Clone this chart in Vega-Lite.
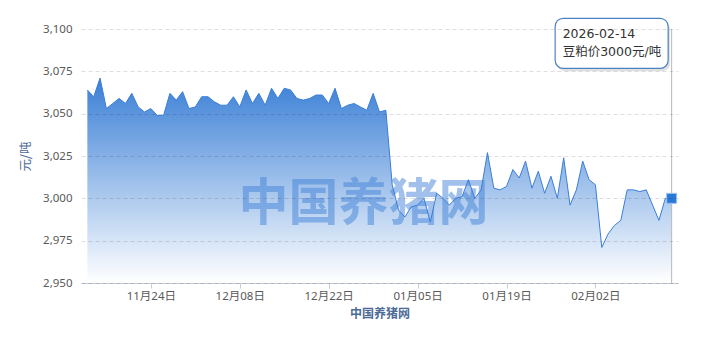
{
  "$schema": "https://vega.github.io/schema/vega-lite/v6.json",
  "width": 597,
  "height": 254,
  "autosize": {"type": "none"},
  "padding": {"left": 81, "top": 29, "right": 25, "bottom": 60},
  "background": "#ffffff",
  "config": {"view": {"stroke": null}, "font": "Noto Sans, Noto Sans CJK SC"},
  "data": {
    "values": [
      {"date": "2025-11-14", "price": 3064}, {"date": "2025-11-15", "price": 3060}, {"date": "2025-11-16", "price": 3071},
      {"date": "2025-11-17", "price": 3053}, {"date": "2025-11-18", "price": 3056}, {"date": "2025-11-19", "price": 3059},
      {"date": "2025-11-20", "price": 3056}, {"date": "2025-11-21", "price": 3062}, {"date": "2025-11-22", "price": 3054},
      {"date": "2025-11-23", "price": 3051}, {"date": "2025-11-24", "price": 3053}, {"date": "2025-11-25", "price": 3049},
      {"date": "2025-11-26", "price": 3049}, {"date": "2025-11-27", "price": 3062}, {"date": "2025-11-28", "price": 3058},
      {"date": "2025-11-29", "price": 3063}, {"date": "2025-11-30", "price": 3053}, {"date": "2025-12-01", "price": 3054},
      {"date": "2025-12-02", "price": 3060}, {"date": "2025-12-03", "price": 3060}, {"date": "2025-12-04", "price": 3057},
      {"date": "2025-12-05", "price": 3055}, {"date": "2025-12-06", "price": 3055}, {"date": "2025-12-07", "price": 3060},
      {"date": "2025-12-08", "price": 3054}, {"date": "2025-12-09", "price": 3064}, {"date": "2025-12-10", "price": 3056},
      {"date": "2025-12-11", "price": 3062}, {"date": "2025-12-12", "price": 3055}, {"date": "2025-12-13", "price": 3065},
      {"date": "2025-12-14", "price": 3059}, {"date": "2025-12-15", "price": 3065}, {"date": "2025-12-16", "price": 3064},
      {"date": "2025-12-17", "price": 3059}, {"date": "2025-12-18", "price": 3058}, {"date": "2025-12-19", "price": 3059},
      {"date": "2025-12-20", "price": 3061}, {"date": "2025-12-21", "price": 3061}, {"date": "2025-12-22", "price": 3056},
      {"date": "2025-12-23", "price": 3065}, {"date": "2025-12-24", "price": 3053}, {"date": "2025-12-25", "price": 3055},
      {"date": "2025-12-26", "price": 3056}, {"date": "2025-12-27", "price": 3054}, {"date": "2025-12-28", "price": 3052},
      {"date": "2025-12-29", "price": 3062}, {"date": "2025-12-30", "price": 3051}, {"date": "2025-12-31", "price": 3052},
      {"date": "2026-01-01", "price": 3008}, {"date": "2026-01-02", "price": 2993}, {"date": "2026-01-03", "price": 2989},
      {"date": "2026-01-04", "price": 2995}, {"date": "2026-01-05", "price": 2996}, {"date": "2026-01-06", "price": 3000},
      {"date": "2026-01-07", "price": 2986}, {"date": "2026-01-08", "price": 3003}, {"date": "2026-01-09", "price": 3000},
      {"date": "2026-01-10", "price": 2996}, {"date": "2026-01-11", "price": 3000}, {"date": "2026-01-12", "price": 3001},
      {"date": "2026-01-13", "price": 3011}, {"date": "2026-01-14", "price": 3000}, {"date": "2026-01-15", "price": 3005},
      {"date": "2026-01-16", "price": 3027}, {"date": "2026-01-17", "price": 3006}, {"date": "2026-01-18", "price": 3005},
      {"date": "2026-01-19", "price": 3007}, {"date": "2026-01-20", "price": 3017}, {"date": "2026-01-21", "price": 3012},
      {"date": "2026-01-22", "price": 3022}, {"date": "2026-01-23", "price": 3006}, {"date": "2026-01-24", "price": 3016},
      {"date": "2026-01-25", "price": 3003}, {"date": "2026-01-26", "price": 3013}, {"date": "2026-01-27", "price": 3000},
      {"date": "2026-01-28", "price": 3024}, {"date": "2026-01-29", "price": 2996}, {"date": "2026-01-30", "price": 3005},
      {"date": "2026-01-31", "price": 3022}, {"date": "2026-02-01", "price": 3011}, {"date": "2026-02-02", "price": 3008},
      {"date": "2026-02-03", "price": 2971}, {"date": "2026-02-04", "price": 2979}, {"date": "2026-02-05", "price": 2984},
      {"date": "2026-02-06", "price": 2987}, {"date": "2026-02-07", "price": 3005}, {"date": "2026-02-08", "price": 3005},
      {"date": "2026-02-09", "price": 3004}, {"date": "2026-02-10", "price": 3005}, {"date": "2026-02-11", "price": 2996},
      {"date": "2026-02-12", "price": 2987}, {"date": "2026-02-13", "price": 3000}, {"date": "2026-02-14", "price": 3000}
    ]
  },
  "encoding": {
    "x": {
      "field": "date",
      "type": "temporal",
      "scale": {
        "type": "utc",
        "domain": [
          {"year": 2025, "month": 11, "date": 13, "utc": true},
          {"year": 2026, "month": 2, "date": 15, "utc": true}
        ]
      },
      "axis": {
        "title": "中国养猪网",
        "titleFont": "Noto Sans CJK SC",
        "titleFontWeight": "bold",
        "titleFontSize": 12,
        "titleColor": "#4d6b97",
        "titlePadding": 7,
        "values": [
          {"year": 2025, "month": 11, "date": 24, "utc": true},
          {"year": 2025, "month": 12, "date": 8, "utc": true},
          {"year": 2025, "month": 12, "date": 22, "utc": true},
          {"year": 2026, "month": 1, "date": 5, "utc": true},
          {"year": 2026, "month": 1, "date": 19, "utc": true},
          {"year": 2026, "month": 2, "date": 2, "utc": true}
        ],
        "format": "%m月%d日",
        "labelFontSize": 11.5,
        "labelColor": "#595959",
        "labelPadding": 2,
        "labelFlush": false,
        "tickSize": 5,
        "tickColor": "#c6cdd8",
        "domainColor": "#c6cdd8",
        "grid": false
      }
    },
    "y": {
      "field": "price",
      "type": "quantitative",
      "scale": {"domain": [2950, 3100], "zero": false, "nice": false},
      "axis": {
        "title": "元/吨",
        "titleFont": "Noto Sans CJK SC",
        "titleFontWeight": "normal",
        "titleFontSize": 12.5,
        "titleColor": "#4d6b97",
        "titlePadding": 10,
        "values": [2950, 2975, 3000, 3025, 3050, 3075, 3100],
        "format": ",d",
        "labelFontSize": 11.5,
        "labelColor": "#595959",
        "labelPadding": 9,
        "ticks": false,
        "domain": false,
        "grid": true,
        "gridColor": "#000000",
        "gridOpacity": 0.13,
        "gridDash": [4, 3],
        "zindex": 1
      }
    }
  },
  "layer": [
    {
      "mark": {
        "type": "area",
        "fill": {
          "gradient": "linear",
          "x1": 0, "y1": 0, "x2": 0, "y2": 1,
          "stops": [
            {"offset": 0, "color": "#3a7fd6"},
            {"offset": 1, "color": "#ffffff"}
          ]
        }
      },
      "encoding": {"y2": {"datum": 2950}}
    },
    {
      "data": {"values": [{"site": "中国养猪网", "date": "2025-12-27T12:00:00Z", "price": 2996}]},
      "mark": {
        "type": "text",
        "font": "Noto Sans CJK SC",
        "fontWeight": "bold",
        "fontSize": 50,
        "color": "#3d80d8",
        "opacity": 0.48,
        "align": "center",
        "baseline": "middle"
      },
      "encoding": {
        "text": {"field": "site", "type": "nominal"}
      }
    },
    {
      "mark": {"type": "line", "color": "#3b7fd6", "strokeWidth": 1}
    },
    {
      "transform": [{"filter": "utcyear(datum.date) == 2026 && utcmonth(datum.date) == 1 && utcdate(datum.date) == 14"}],
      "mark": {"type": "rule", "color": "#b9b9b9", "strokeWidth": 1},
      "encoding": {"y": {"datum": 3100}, "y2": {"datum": 2950}}
    },
    {
      "transform": [{"filter": "utcyear(datum.date) == 2026 && utcmonth(datum.date) == 1 && utcdate(datum.date) == 14"}],
      "mark": {"type": "point", "shape": "square", "filled": true, "size": 100, "color": "#2b78d6", "stroke": "#9cc2ee", "strokeWidth": 1, "opacity": 1}
    },
    {
      "transform": [{"filter": "utcyear(datum.date) == 2026 && utcmonth(datum.date) == 1 && utcdate(datum.date) == 14"}],
      "mark": {"type": "rect", "width": 113, "height": 50, "xOffset": -58, "yOffset": -152, "cornerRadius": 8, "fill": "#000000", "opacity": 0.12}
    },
    {
      "transform": [{"filter": "utcyear(datum.date) == 2026 && utcmonth(datum.date) == 1 && utcdate(datum.date) == 14"}],
      "mark": {"type": "rect", "width": 113, "height": 50, "xOffset": -60, "yOffset": -155, "cornerRadius": 8, "fill": "#ffffff", "stroke": "#4a83c3", "strokeWidth": 1.2}
    },
    {
      "transform": [
        {"filter": "utcyear(datum.date) == 2026 && utcmonth(datum.date) == 1 && utcdate(datum.date) == 14"},
        {"calculate": "utcFormat(datum.date, '%Y-%m-%d') + '\\n' + '豆粕价' + datum.price + '元/吨'", "as": "tip"}
      ],
      "mark": {
        "type": "text",
        "align": "left",
        "baseline": "alphabetic",
        "dx": -109,
        "dy": -160,
        "lineBreak": "\n",
        "lineHeight": 17.5,
        "fontSize": 12.5,
        "font": "DejaVu Sans, Noto Sans CJK SC",
        "color": "#333333"
      },
      "encoding": {"text": {"field": "tip", "type": "nominal"}}
    }
  ]
}
